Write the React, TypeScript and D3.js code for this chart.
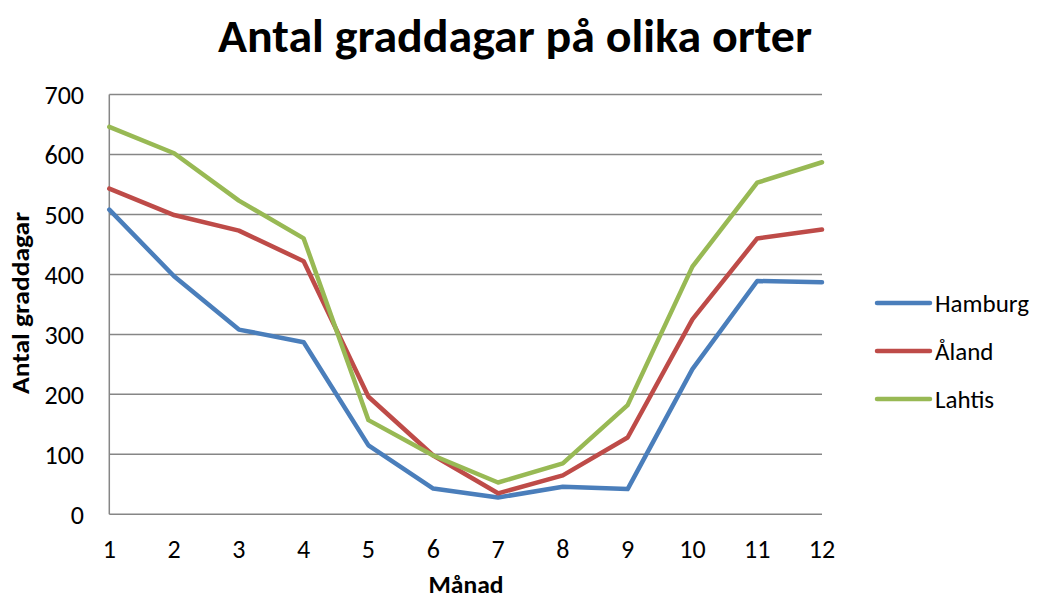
import React from "react";
import * as d3 from "d3";

const months = [1, 2, 3, 4, 5, 6, 7, 8, 9, 10, 11, 12];
const hamburg = [508, 397, 308, 287, 115, 43, 28, 46, 42, 242, 389, 387];
const aland = [543, 499, 473, 422, 196, 98, 35, 65, 128, 325, 460, 475];
const lahtis = [646, 602, 523, 460, 157, 98, 53, 85, 182, 413, 553, 587];
const yTicks = [0, 100, 200, 300, 400, 500, 600, 700];

const seriesNames = ["Hamburg", "Åland", "Lahtis"];
const seriesValues = [hamburg, aland, lahtis];
const colors = ["#4A7EBB", "#BE4B48", "#98B954"];

const W = 1037;
const H = 599;
const FONT = "Carlito, Calibri, 'Open Sans', 'Noto Sans', sans-serif";

export default function App() {
  const x = d3.scaleLinear().domain([1, 12]).range([109.3, 822]);
  const y = d3.scaleLinear().domain([0, 700]).range([514.3, 94.5]);
  const line = d3
    .line<number>()
    .x((_, i) => x(months[i]))
    .y((d) => y(d));

  return (
    <svg
      width={W}
      height={H}
      style={{ position: "absolute", left: 0, top: 0, background: "#fff" }}
      fontFamily={FONT}
    >
      <text
        x={515}
        y={52}
        textAnchor="middle"
        fontSize={47}
        fontWeight="bold"
        textLength={594}
        lengthAdjust="spacingAndGlyphs"
        fill="#000"
      >
        Antal graddagar på olika orter
      </text>

      {yTicks.map((t) => (
        <g key={t}>
          {t > 0 && (
            <line
              x1={x(1)}
              x2={x(12)}
              y1={y(t)}
              y2={y(t)}
              stroke="#868686"
              strokeWidth={1.5}
            />
          )}
          <text
            x={84}
            y={y(t)}
            dy="0.36em"
            textAnchor="end"
            fontSize={26}
            fill="#000"
          >
            {t}
          </text>
        </g>
      ))}
      <line x1={x(1)} x2={x(1)} y1={y(700)} y2={y(0)} stroke="#868686" strokeWidth={1.5} />
      <line x1={x(1)} x2={x(12)} y1={y(0)} y2={y(0)} stroke="#868686" strokeWidth={1.5} />

      {months.map((m) => (
        <text key={m} x={x(m)} y={558} textAnchor="middle" fontSize={26} fill="#000">
          {m}
        </text>
      ))}

      <text
        x={466}
        y={593}
        textAnchor="middle"
        fontSize={24}
        fontWeight="bold"
        textLength={75}
        lengthAdjust="spacingAndGlyphs"
        fill="#000"
      >
        Månad
      </text>
      <text
        transform="translate(29,303) rotate(-90)"
        textAnchor="middle"
        fontSize={24}
        fontWeight="bold"
        textLength={182}
        lengthAdjust="spacingAndGlyphs"
        fill="#000"
      >
        Antal graddagar
      </text>

      {seriesValues.map((vals, i) => (
        <path
          key={seriesNames[i]}
          d={line(vals) || ""}
          fill="none"
          stroke={colors[i]}
          strokeWidth={4.5}
          strokeLinejoin="round"
          strokeLinecap="round"
        />
      ))}

      {seriesNames.map((n, i) => (
        <g key={n} transform={`translate(0,${303 + i * 48})`}>
          <line x1={877} x2={930} y1={0} y2={0} stroke={colors[i]} strokeWidth={4.5} strokeLinecap="round" />
          <text x={935} y={0} dy="0.36em" fontSize={25} fill="#000">
            {n}
          </text>
        </g>
      ))}
    </svg>
  );
}
